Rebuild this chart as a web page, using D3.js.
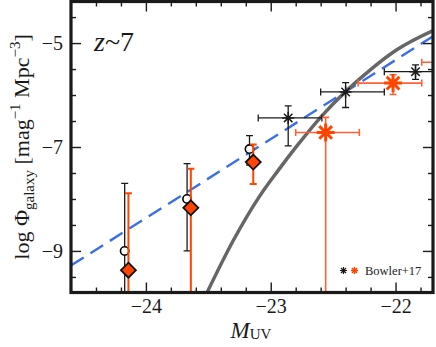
<!DOCTYPE html>
<html>
<head>
<meta charset="utf-8">
<script src="https://cdn.jsdelivr.net/npm/d3@7"></script>
<style>
    body { margin: 0; background: #fff; }
    svg { display: block; }
    svg text { font-family: 'Liberation Serif', 'Times New Roman', serif; }
</style>
</head>
<body>
<div id="chart-container"></div>
<script>
// Open circles (black error bars)
const circleMag = [-24.17, -23.67, -23.17]
const circlePhi = [-9.00, -8.00, -7.04]
const circleHi = [-7.70, -7.32, -6.78]
const circleLo = [-10.5, -9.00, -7.35]

// Orange diamonds
const diamondMag = [-24.14, -23.64, -23.14]
const diamondPhi = [-9.37, -8.17, -7.29]
const diamondHi = [-7.89, -7.42, -6.95]
const diamondLo = [-10.5, -10.5, -7.71]

// Bowler+17, black asterisks
const bowlerBlackMag = [-22.86, -22.40, -21.84]
const bowlerBlackPhi = [-6.44, -5.94, -5.55]
const bowlerBlackHi = [-6.21, -5.76, -5.42]
const bowlerBlackLo = [-6.98, -6.24, -5.70]
const bowlerBlackMagLo = [-23.10, -22.60, -22.09]
const bowlerBlackMagHi = [-22.59, -22.09, -21.59]

// Bowler+17, orange asterisks
const bowlerOrangeMag = [-22.56, -22.02, -21.54]
const bowlerOrangePhi = [-6.72, -5.77, -5.37]
const bowlerOrangeHi = [-6.43, -5.61, -5.20]
const bowlerOrangeLo = [-10.5, -5.99, -5.55]
const bowlerOrangeMagLo = [-22.80, -22.30, -21.79]
const bowlerOrangeMagHi = [-22.29, -21.79, -21.29]

// Solid grey curve
const curveMag = [-23.52, -23.30, -23.09, -22.94, -22.79, -22.59, -22.39, -22.19, -21.99, -21.70]
const curvePhi = [-9.85, -8.80, -7.95, -7.45, -6.98, -6.40, -5.91, -5.49, -5.13, -4.76]

// Dashed blue line
const dashMag = [-24.60, -21.70]
const dashPhi = [-9.28, -4.87]

// Ticks
const xMajorTicks = [-24, -23, -22]
const xMinorTicks = [-24.4, -24.2, -23.8, -23.6, -23.4, -23.2, -22.8, -22.6, -22.4, -22.2, -21.8]
const yMajorTicks = [-9, -7, -5]
const yMinorTicks = [-9.5, -8.5, -8, -7.5, -6.5, -6, -5.5, -4.5]

const serif = "'Liberation Serif', 'Times New Roman', serif"

class LFPlot {
    constructor(options) {
        this.width = options.width
        this.height = options.height
        this.left = 71
        this.right = 433
        this.top = 1.5
        this.bottom = 292.5

        this.orange = '#ff4500'
        this.orangeLight = '#ff6035'
        this.black = '#1a1a1a'

        this.x = d3.scaleLinear().domain([-24.6, -21.7]).range([this.left, this.right])
        this.y = d3.scaleLinear().domain([-9.8, -4.2]).range([this.bottom, this.top])

        this.svg = d3.select('#chart-container')
            .append('svg')
            .attr('width', this.width)
            .attr('height', this.height)

        this.svg.append('clipPath')
            .attr('id', 'plot-clip')
            .append('rect')
            .attr('x', this.left)
            .attr('y', this.top)
            .attr('width', this.right - this.left)
            .attr('height', this.bottom - this.top)

        this.plotArea = this.svg.append('g').attr('clip-path', 'url(#plot-clip)')
    }

    plot() {
        this.#drawLines()
        this.#drawVerticalErrors(circleMag, circleHi, circleLo, this.black, 1.3, 3.5)
        this.#drawCircles()
        this.#drawVerticalErrors(diamondMag, diamondHi, diamondLo, this.orange, 2, 3.5)
        this.#drawDiamonds()
        this.#drawVerticalErrors(bowlerBlackMag, bowlerBlackHi, bowlerBlackLo, this.black, 1.3, 3.5)
        this.#drawHorizontalErrors(bowlerBlackMagLo, bowlerBlackMagHi, bowlerBlackPhi, this.black, 1.3, 3.5)
        this.#drawVerticalErrors(bowlerOrangeMag, bowlerOrangeHi, bowlerOrangeLo, this.orangeLight, 1.6, 3.5)
        this.#drawHorizontalErrors(bowlerOrangeMagLo, bowlerOrangeMagHi, bowlerOrangePhi, this.orangeLight, 1.6, 3.5)
        this.#drawAsterisks(this.plotArea, bowlerBlackMag.map(m => this.x(m)), bowlerBlackPhi.map(p => this.y(p)), 6, this.black, 1.5)
        this.#drawAsterisks(this.plotArea, bowlerOrangeMag.map(m => this.x(m)), bowlerOrangePhi.map(p => this.y(p)), 9, this.orange, 3)
        this.#drawAxes()
        this.#drawFrame()
        this.#drawLabels()
        this.#drawLegend()
    }

    #drawLines() {
        const line = d3.line().x(d => this.x(d[0])).y(d => this.y(d[1]))
        this.plotArea.append('path')
            .datum(d3.zip(dashMag, dashPhi))
            .attr('d', line)
            .attr('fill', 'none')
            .attr('stroke', '#3b6fe6')
            .attr('stroke-width', 2.4)
            .attr('stroke-dasharray', '15,8')

        this.plotArea.append('path')
            .datum(d3.zip(curveMag, curvePhi))
            .attr('d', line.curve(d3.curveMonotoneX))
            .attr('fill', 'none')
            .attr('stroke', '#666')
            .attr('stroke-width', 3.5)
    }

    #drawVerticalErrors(mags, hi, lo, color, width, cap) {
        const g = this.plotArea.append('g')
            .attr('stroke', color)
            .attr('stroke-width', width)
        mags.forEach((m, i) => {
            const cx = this.x(m)
            g.append('line').attr('x1', cx).attr('x2', cx).attr('y1', this.y(hi[i])).attr('y2', this.y(lo[i]))
            g.append('line').attr('x1', cx - cap).attr('x2', cx + cap).attr('y1', this.y(hi[i])).attr('y2', this.y(hi[i]))
            g.append('line').attr('x1', cx - cap).attr('x2', cx + cap).attr('y1', this.y(lo[i])).attr('y2', this.y(lo[i]))
        })
    }

    #drawHorizontalErrors(magLo, magHi, phi, color, width, cap) {
        const g = this.plotArea.append('g')
            .attr('stroke', color)
            .attr('stroke-width', width)
        phi.forEach((p, i) => {
            const cy = this.y(p)
            g.append('line').attr('x1', this.x(magLo[i])).attr('x2', this.x(magHi[i])).attr('y1', cy).attr('y2', cy)
            g.append('line').attr('x1', this.x(magLo[i])).attr('x2', this.x(magLo[i])).attr('y1', cy - cap).attr('y2', cy + cap)
            g.append('line').attr('x1', this.x(magHi[i])).attr('x2', this.x(magHi[i])).attr('y1', cy - cap).attr('y2', cy + cap)
        })
    }

    #drawCircles() {
        this.plotArea.selectAll('.open-circle')
            .data(d3.zip(circleMag, circlePhi))
            .enter()
            .append('circle')
            .attr('class', 'open-circle')
            .attr('cx', d => this.x(d[0]))
            .attr('cy', d => this.y(d[1]))
            .attr('r', 4.2)
            .attr('fill', 'white')
            .attr('stroke', 'black')
            .attr('stroke-width', 1.6)
    }

    #drawDiamonds() {
        const s = 7.5
        this.plotArea.selectAll('.diamond')
            .data(d3.zip(diamondMag, diamondPhi))
            .enter()
            .append('path')
            .attr('class', 'diamond')
            .attr('transform', d => `translate(${this.x(d[0])},${this.y(d[1])})`)
            .attr('d', `M0,${-s}L${s},0L0,${s}L${-s},0Z`)
            .attr('fill', this.orange)
            .attr('stroke', '#111')
            .attr('stroke-width', 1.8)
    }

    #drawAsterisks(parent, xs, ys, r, color, width) {
        const d = r * Math.SQRT1_2
        const shape = `M0,${-r}V${r}M${-r},0H${r}M${-d},${-d}L${d},${d}M${-d},${d}L${d},${-d}`
        xs.forEach((cx, i) => {
            parent.append('path')
                .attr('transform', `translate(${cx},${ys[i]})`)
                .attr('d', shape)
                .attr('fill', 'none')
                .attr('stroke', color)
                .attr('stroke-width', width)
        })
    }

    #axis(gen, transform, ticks, size, labels, padding) {
        const g = this.svg.append('g')
            .attr('transform', transform)
            .call(gen.tickValues(ticks)
                .tickSize(-size)
                .tickPadding(padding)
                .tickFormat(labels ? d => d3.format('d')(d).replace('-', '\u2212') : ''))
        g.attr('font-family', serif)
        g.select('.domain').remove()
        g.selectAll('line').attr('stroke', this.black).attr('stroke-width', 1.4)
        g.selectAll('text')
            .attr('fill', this.black)
            .attr('font-size', 20)
        return g
    }

    #drawAxes() {
        const bottomT = `translate(0,${this.bottom})`
        const topT = `translate(0,${this.top})`
        const leftT = `translate(${this.left},0)`
        const rightT = `translate(${this.right},0)`
        this.#axis(d3.axisBottom(this.x), bottomT, xMajorTicks, 10, true, 6)
        this.#axis(d3.axisBottom(this.x), bottomT, xMinorTicks, 5, false, 0)
        this.#axis(d3.axisTop(this.x), topT, xMajorTicks, 10, false, 0)
        this.#axis(d3.axisTop(this.x), topT, xMinorTicks, 5, false, 0)
        this.#axis(d3.axisLeft(this.y), leftT, yMajorTicks, 10, true, 8)
        this.#axis(d3.axisLeft(this.y), leftT, yMinorTicks, 5, false, 0)
        this.#axis(d3.axisRight(this.y), rightT, yMajorTicks, 10, false, 0)
        this.#axis(d3.axisRight(this.y), rightT, yMinorTicks, 5, false, 0)
    }

    #drawFrame() {
        this.svg.append('rect')
            .attr('x', this.left)
            .attr('y', this.top)
            .attr('width', this.right - this.left)
            .attr('height', this.bottom - this.top)
            .attr('fill', 'none')
            .attr('stroke', this.black)
            .attr('stroke-width', 3.2)
    }

    #drawLabels() {
        const z = this.svg.append('text')
            .attr('x', 94)
            .attr('y', 51)
            .attr('font-family', serif)
            .attr('font-size', 28)
            .attr('fill', this.black)
        z.append('tspan').attr('font-style', 'italic').text('z')
        z.append('tspan').text('~7')

        const xl = this.svg.append('text')
            .attr('x', 251)
            .attr('y', 338)
            .attr('text-anchor', 'middle')
            .attr('font-family', serif)
            .attr('fill', this.black)
        xl.append('tspan').attr('font-style', 'italic').attr('font-size', 23).text('M')
        xl.append('tspan').attr('font-size', 15).attr('dy', 1).text('UV')

        const yl = this.svg.append('text')
            .attr('transform', 'translate(28.5,147) rotate(-90)')
            .attr('text-anchor', 'middle')
            .attr('font-family', serif)
            .attr('font-size', 22)
            .attr('fill', this.black)
        yl.append('tspan').text('log \u03a6')
        yl.append('tspan').attr('font-size', 15).attr('dy', 5).text('galaxy')
        yl.append('tspan').attr('dy', -5).text(' [mag')
        yl.append('tspan').attr('font-size', 15).attr('dy', -9).text('\u22121')
        yl.append('tspan').attr('dy', 9).text(' Mpc')
        yl.append('tspan').attr('font-size', 15).attr('dy', -9).text('\u22123')
        yl.append('tspan').attr('dy', 9).text(']')
    }

    #drawLegend() {
        const legend = this.svg.append('g').attr('id', 'legend')
        this.#drawAsterisks(legend, [343.5], [270.5], 3.6, this.black, 1.2)
        this.#drawAsterisks(legend, [354.5], [270.5], 3.6, this.orange, 1.4)
        legend.append('text')
            .attr('x', 365)
            .attr('y', 274.5)
            .attr('font-family', serif)
            .attr('font-size', 12.5)
            .attr('fill', '#222')
            .text('Bowler+17')
    }
}

new LFPlot({ width: 436, height: 347 }).plot()
</script>
</body>
</html>
